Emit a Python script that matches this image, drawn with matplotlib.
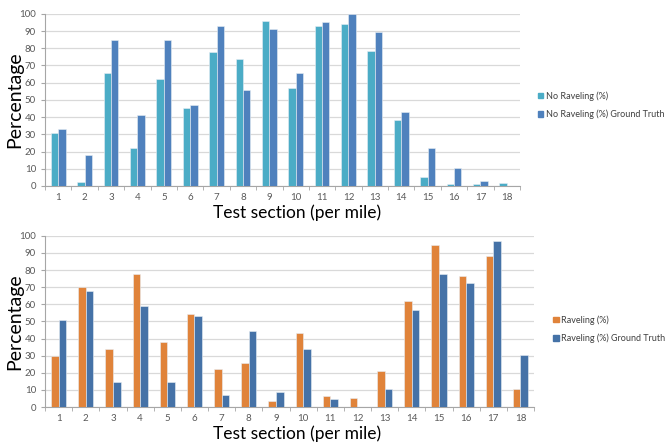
import numpy as np
import matplotlib
matplotlib.use("Agg")
import matplotlib.pyplot as plt
from matplotlib.patches import Patch

plt.rcParams['font.family'] = ['Lato', 'DejaVu Sans']

sections = [str(i) for i in range(1, 19)]

# top chart: no raveling
no_rav = [31, 2, 65.5, 22, 62, 45.5, 78, 74, 96, 57, 93, 94, 78.6, 38.3, 5.3, 1.4, 1.2, 1.6]
no_rav_gt = [33, 18, 85, 41, 85, 47, 93, 55.5, 91, 65.5, 95, 100, 89.5, 43.2, 22.2, 10.7, 3.1, 0]

# bottom chart: raveling
rav = [30, 70, 34, 78, 38, 54.5, 22, 26, 3.7, 43.2, 6.4, 5.4, 21.2, 61.7, 94.7, 76.3, 88.5, 10.7]
rav_gt = [51, 68, 14.6, 58.8, 14.8, 53, 7, 44.5, 8.6, 34, 4.9, 0, 10.7, 56.8, 77.6, 72.4, 96.9, 30.5]

tick_color = '#595959'
grid_color = '#D9D9D9'


def draw_panel(ax, a, b, colors, labels, legend_pos, ylab_x, xlab_x):
    x = np.arange(len(sections))
    w = 0.28
    ax.bar(x - w / 2, a, w, color=colors[0], edgecolor='#e8eef4', linewidth=0.4, zorder=3)
    ax.bar(x + w / 2, b, w, color=colors[1], edgecolor='#e8eef4', linewidth=0.4, zorder=3)
    ax.set_xlim(-0.5, len(sections) - 0.5)
    ax.set_ylim(0, 100)
    ax.set_yticks(range(0, 101, 10))
    ax.yaxis.grid(True, color=grid_color, linewidth=0.9, zorder=0)
    ax.set_xticks(x)
    ax.set_xticklabels(sections)
    ax.set_xticks(np.arange(-0.5, len(sections)), minor=True)
    ax.tick_params(axis='x', which='major', length=0, labelsize=7, colors=tick_color, pad=5)
    ax.tick_params(axis='x', which='minor', length=3, color='#A6A6A6')
    ax.tick_params(axis='y', length=3, labelsize=7, colors=tick_color, color='#A6A6A6')
    for s in ['top', 'right']:
        ax.spines[s].set_visible(False)
    for s in ['left', 'bottom']:
        ax.spines[s].set_color('#A6A6A6')
        ax.spines[s].set_linewidth(0.8)
    ax.set_ylabel('Percentage', fontsize=14)
    ax.yaxis.set_label_coords(ylab_x, 0.5)
    ax.set_xlabel('Test section (per mile)', fontsize=12.5)
    ax.xaxis.set_label_coords(xlab_x, -0.11)
    handles = [Patch(color=colors[0], label=labels[0]), Patch(color=colors[1], label=labels[1])]
    fig.legend(handles=handles, loc='center left', bbox_to_anchor=legend_pos, frameon=False,
               fontsize=6.5, handlelength=0.6, handleheight=0.6, handletextpad=0.3,
               labelspacing=1.0, labelcolor='#404040')


fig = plt.figure(figsize=(6.69, 4.48), dpi=100)
ax1 = fig.add_axes([0.0673, 0.585, 0.710, 0.384])
ax2 = fig.add_axes([0.0673, 0.0915, 0.731, 0.382])

draw_panel(ax1, no_rav, no_rav_gt, ['#4BACC6', '#4F81BD'],
           ['No Raveling (%)', 'No Raveling (%) Ground Truth'], (0.792, 0.765),
           -0.045, 0.53)
draw_panel(ax2, rav, rav_gt, ['#E0833A', '#4572A7'],
           ['Raveling (%)', 'Raveling (%) Ground Truth'], (0.815, 0.265),
           -0.044, 0.515)

fig.savefig('out.png', dpi=100)
